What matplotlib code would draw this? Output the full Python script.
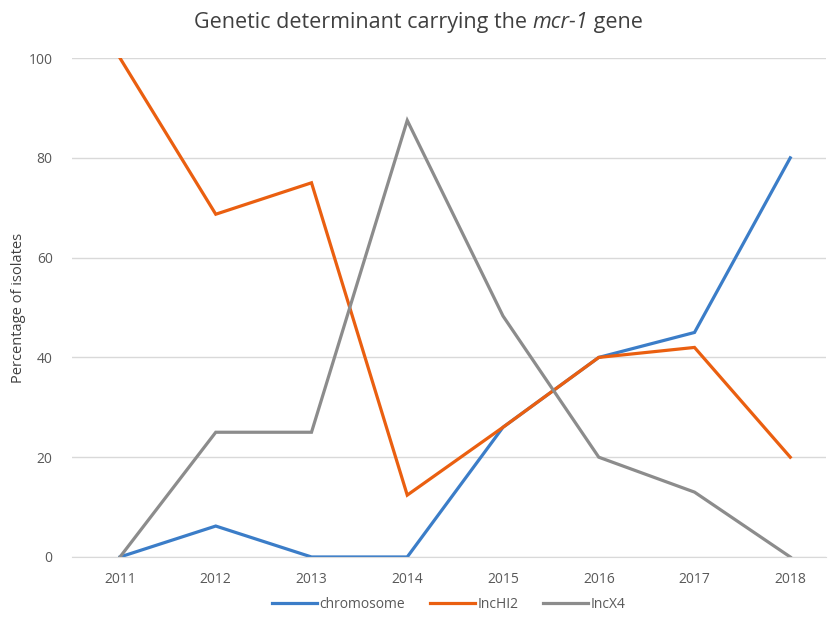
import numpy as np
import matplotlib.pyplot as plt

plt.rcParams['font.family'] = ['Open Sans', 'DejaVu Sans']

years = ['2011', '2012', '2013', '2014', '2015', '2016', '2017', '2018']
chromosome = [0, 6.2, 0, 0, 26, 40, 45, 80]
inchi2 = [100, 68.7, 75, 12.4, 26, 40, 42, 20]
incx4 = [0, 25, 25, 87.5, 48.3, 20, 13, 0]

series = [
    ('chromosome', chromosome, '#3B7DC8'),
    ('IncHI2', inchi2, '#EA5F10'),
    ('IncX4', incx4, '#8C8C8C'),
]

fig = plt.figure(figsize=(8.29, 6.19), dpi=100)
ax = fig.add_axes([0.087, 0.1002, 0.909, 0.806])

x = np.arange(len(years))
for name, vals, col in series:
    ax.plot(x, vals, color=col, lw=2.3, label=name, solid_joinstyle='miter')

ax.set_xlim(-0.5, 7.37)
ax.set_ylim(0, 100)
ax.set_yticks(range(0, 101, 20))
ax.set_xticks(x)
ax.set_xticklabels(years)
ax.grid(axis='y', color='#D9D9D9', lw=1)
ax.set_axisbelow(True)
for s in ax.spines.values():
    s.set_visible(False)
ax.spines['bottom'].set_visible(True)
ax.spines['bottom'].set_color('#D9D9D9')
ax.tick_params(axis='y', length=0, labelsize=10, colors='#595959', pad=14)
ax.tick_params(axis='x', length=0, labelsize=10, colors='#595959', pad=11)
ax.set_ylabel('Percentage of isolates', fontsize=10.5, color='#404040', labelpad=2)

# title: pieces so "mcr-1" can be italic
parts = [('Genetic determinant carrying the ', 'normal'),
         ('mcr-1', 'italic'),
         (' gene', 'normal')]
renderer = fig.canvas.get_renderer()
texts = []
for s, style in parts:
    t = fig.text(0, 0.955, s, fontsize=15.5, color='#404040', style=style, va='baseline')
    texts.append(t)
widths = [t.get_window_extent(renderer).width for t in texts]
xpos = (fig.bbox.width - sum(widths)) / 2 + 4
for t, w in zip(texts, widths):
    t.set_x(xpos / fig.bbox.width)
    xpos += w

ax.legend(loc='upper center', bbox_to_anchor=(0.5, -0.055), ncol=3, frameon=False,
          fontsize=10, handlelength=3.2, handletextpad=0.2, columnspacing=1.8,
          labelcolor='#595959')

fig.savefig('out.png', dpi=100)
